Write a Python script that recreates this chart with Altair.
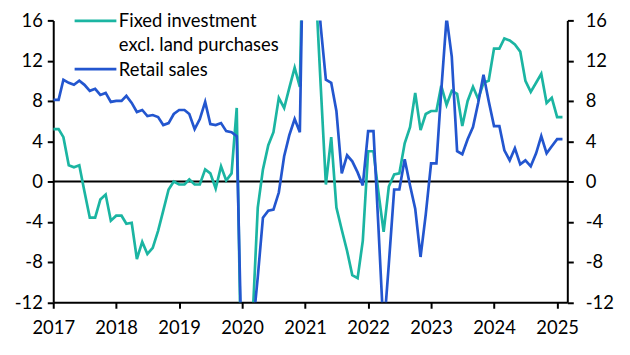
import altair as alt
import pandas as pd

# Monthly data, Jan 2017 .. Feb 2025 (% y/y)
start_month = "2017-01-01"
fixed_investment = [
    5.2, 5.2, 4.4, 1.6, 1.4, 1.6, -1.0, -3.6, -3.6, -1.8, -1.3, -3.9,
    -3.4, -3.4, -4.2, -4.1, -7.7, -6.0, -7.2, -6.6, -4.9, -2.9, -0.8, 0.0,
    -0.3, -0.3, 0.2, -0.3, -0.3, 1.2, 0.8, -0.7, 1.5, 0.1, 0.8, 7.3,
    -24.5, -24.5, -14.0, -2.6, 1.2, 3.6, 4.9, 8.3, 7.3, 9.3, 11.3, 9.4,
    35.0, 35.0, 20.0, 9.5, -0.3, 4.4, -2.6, -4.8, -6.9, -9.3, -9.6, -5.9,
    3.0, 3.0, -1.0, -5.0, -0.5, 0.7, 0.8, 3.8, 5.4, 8.8, 5.1, 6.7,
    7.0, 7.0, 9.5, 7.6, 9.0, 8.7, 5.5, 8.0, 9.4, 8.2, 9.8, 10.0,
    13.2, 13.2, 14.2, 14.0, 13.6, 12.9, 10.0, 8.9, 9.8, 10.7, 7.8, 8.3,
    6.4, 6.4,
]
retail_sales = [
    8.1, 8.1, 10.1, 9.8, 9.6, 10.0, 9.6, 9.0, 9.2, 8.6, 8.8, 7.9,
    8.0, 8.0, 8.5, 7.8, 6.9, 7.1, 6.5, 6.6, 6.4, 5.6, 5.8, 6.7,
    7.1, 7.1, 6.7, 5.2, 6.2, 7.9, 5.7, 5.6, 5.8, 5.0, 4.9, 4.5,
    -19.0, -19.0, -15.0, -9.5, -3.6, -2.9, -2.8, -1.1, 2.5, 4.6, 6.2, 4.9,
    36.0, 36.0, 22.0, 15.4, 10.1, 9.8, 7.0, 0.8, 2.6, 2.0, 0.9, -0.4,
    5.0, 5.0, -4.3, -15.0, -8.2, -0.8, -0.8, 2.2, -0.4, -2.7, -7.5, -3.3,
    1.8, 1.8, 9.0, 16.3, 12.4, 3.0, 2.7, 4.2, 5.4, 7.8, 10.6, 8.0,
    5.5, 5.5, 3.1, 2.1, 3.3, 1.7, 2.1, 1.5, 2.8, 4.5, 2.8, 3.5,
    4.2, 4.2,
]
y_ticks = [-12, -8, -4, 0, 4, 8, 12, 16]
x_years = list(range(2017, 2026))
legend_lines = ["Fixed investment", "excl. land purchases", "Retail sales"]

TEAL = "#1bb5a2"
BLUE = "#2356cf"
FONT = "Lato"
FS = 18.5

dates = pd.date_range(start_month, periods=len(retail_sales), freq="MS").strftime("%Y-%m-%d")
df = pd.DataFrame({"date": dates, "fi": fixed_investment, "rs": retail_sales})

y_scale = alt.Scale(domain=[y_ticks[0], y_ticks[-1]], nice=False, zero=False)
x_scale = alt.Scale(domain=[alt.DateTime(year=2017, month=1, date=1),
                            alt.DateTime(year=2025, month=3, date=1)])

axis_common = dict(
    domainColor="black", domainWidth=2, tickColor="black", tickWidth=2,
    tickSize=6, labelFont=FONT, labelFontSize=FS, labelColor="black",
    grid=False, title=None,
)

x_axis = alt.Axis(values=[alt.DateTime(year=y, month=1, date=1) for y in x_years],
                  format="%Y", labelPadding=10, labelFlush=False, **axis_common)

base = alt.Chart(df)

zero = alt.Chart(pd.DataFrame({"zero": [0]})).mark_rule(
    color="black", strokeWidth=2
).encode(y=alt.Y("zero:Q", scale=y_scale, axis=None))

teal_line = base.mark_line(color=TEAL, strokeWidth=2.7, clip=True).encode(
    x=alt.X("date:T", scale=x_scale, axis=x_axis),
    y=alt.Y("fi:Q", scale=y_scale,
            axis=alt.Axis(orient="left", values=y_ticks, labelExpr="'' + datum.value",
                          labelPadding=5, **axis_common)),
)

blue_line = base.mark_line(color=BLUE, strokeWidth=2.7, clip=True).encode(
    x=alt.X("date:T", scale=x_scale, axis=x_axis),
    y=alt.Y("rs:Q", scale=y_scale,
            axis=alt.Axis(orient="right", values=y_ticks, labelExpr="'' + datum.value",
                          labelPadding=12, labelAlign="left", **axis_common)),
)

one = pd.DataFrame({"k": [0]})
leg_teal = alt.Chart(one).mark_rule(color=TEAL, strokeWidth=2.7).encode(
    x=alt.value(21.5), x2=alt.value(63.5), y=alt.value(0.5))
leg_blue = alt.Chart(one).mark_rule(color=BLUE, strokeWidth=2.7).encode(
    x=alt.value(21.5), x2=alt.value(63.5), y=alt.value(49))

def leg_text(txt, ypos):
    return alt.Chart(one).mark_text(
        text=txt, align="left", baseline="alphabetic", font=FONT,
        fontSize=FS, color="black"
    ).encode(x=alt.value(66), y=alt.value(ypos))

chart = alt.layer(
    zero, teal_line, blue_line, leg_teal, leg_blue,
    leg_text(legend_lines[0], 7),
    leg_text(legend_lines[1], 31),
    leg_text(legend_lines[2], 55.5),
).resolve_axis(y="independent").properties(
    width=517, height=283.5,
    autosize=alt.AutoSizeParams(type="none"),
    padding={"left": 45.5, "top": 11.5, "right": 55, "bottom": 40},
).configure_view(stroke=None)

chart.save("out.html", embed_options={"renderer": "svg", "actions": False})
